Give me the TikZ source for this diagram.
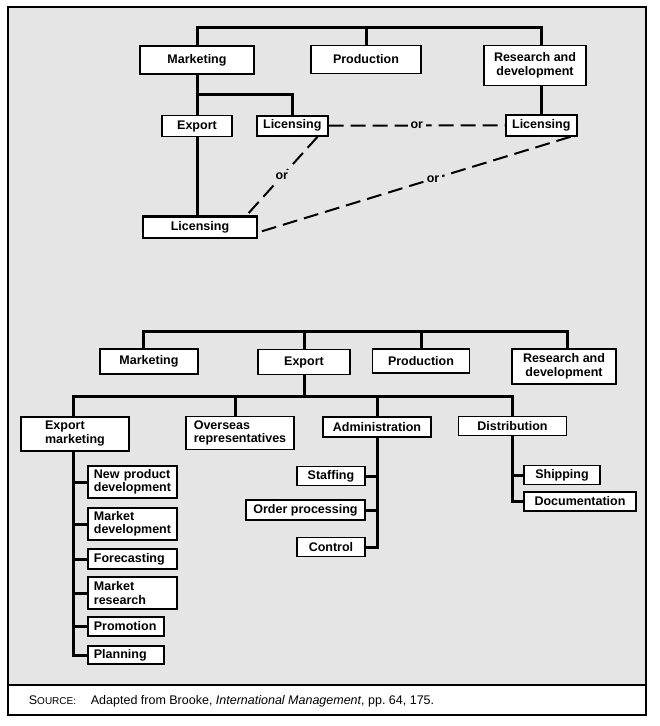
\documentclass[tikz,border=0pt]{standalone}
\usepackage{fontspec}
\setmainfont{Liberation Sans}
\usetikzlibrary{calc}
\definecolor{paper}{gray}{0.9}
\tikzset{
  unit/.style={draw,line width=1.8pt,fill=white,inner sep=2pt,align=center,
    font=\bfseries\fontsize{12.5}{13.5}\selectfont},
  lunit/.style={unit,anchor=west,align=left,inner xsep=6pt,text width=#1},
  link/.style={line width=3pt},
  alt/.style={line width=2pt,dash pattern=on 15pt off 7pt},
  orlabel/.style={fill=paper,inner sep=3pt,font=\bfseries\fontsize{12.5}{13.5}\selectfont}
}
\begin{document}
\begin{tikzpicture}[x=1pt,y=-1pt]
  \useasboundingbox (0,0) rectangle (660,726);
  \fill[paper] (7.5,7) rectangle (646,685);
  \draw[line width=2pt] (7.5,7) rectangle (646,715);
  \draw[line width=2.5pt] (7.5,685) -- (646,685);

  \node[unit,minimum width=114,minimum height=28] (mkt) at (197,60) {Marketing};
  \node[unit,minimum width=110,minimum height=28] (prod) at (366,59.5) {Production};
  \node[unit,minimum width=102,minimum height=40] (rnd) at (535,65.5) {Research and\\development};
  \node[unit,minimum width=70,minimum height=21] (exp) at (197,126) {Export};
  \node[unit,minimum width=71,minimum height=20] (lic1) at (292.3,125.7) {Licensing};
  \node[unit,minimum width=71,minimum height=21] (lic2) at (541.3,125.3) {Licensing};
  \node[unit,minimum width=114,minimum height=21] (lic3) at (200,227.5) {Licensing};
  \draw[link] (prod.north) -- ++(0,-17) coordinate (top);
  \draw[link] (mkt.north) |- (top) -| (lic2.north |- rnd.north);
  \draw[link] (mkt.south) -- (exp.north);
  \draw[link] ($(mkt.south)!0.5!(exp.north)$) -| (lic1.north);
  \draw[link] (lic2.north |- rnd.south) -- (lic2.north);
  \draw[link] (exp.south) -- (exp.south |- lic3.north);
  \draw[link] (lic3.north west) -- (lic3.north east);
  \draw[alt] (lic1.east) -- node[orlabel] {or} (lic2.west);
  \draw[alt] ([xshift=-11pt]lic1.south east) -- node[orlabel] {or} ([xshift=-12pt]lic3.north east);
  \draw[alt] ([xshift=-7pt]lic2.south east) -- node[orlabel,pos=0.44] {or} ([yshift=-5pt]lic3.east);

  \node[unit,minimum width=98,minimum height=25] (mkt2) at (149,361.5) {Marketing};
  \node[unit,minimum width=92,minimum height=25] (exp2) at (304,362) {Export};
  \node[unit,minimum width=97,minimum height=24] (prod2) at (421,361) {Production};
  \node[unit,minimum width=104,minimum height=35] (rnd2) at (564,366.5) {Research and\\development};
  \draw[link] (prod2.north) -- ++(0,-17) coordinate (top2);
  \draw[link] ([xshift=-6pt]mkt2.north) |- (top2) -| ([xshift=3pt]rnd2.north);
  \draw[link] (exp2.north) -- (exp2.north |- top2);
  \draw[link] (exp2.south) -- ++(0,21) coordinate (mid2);

  \node[unit,align=left,minimum width=108,minimum height=34] (expm) at (75,433.7) {Export\\marketing};
  \node[unit,align=left,minimum width=108,minimum height=33] (ovs) at (240,433) {Overseas\\representatives};
  \node[unit,minimum width=108,minimum height=20] (adm) at (377,426.7) {Administration};
  \node[unit,minimum width=108,minimum height=19] (dist) at (512.5,426) {Distribution};
  \coordinate (emline) at ([xshift=-2pt]expm.south);
  \coordinate (osline) at ([xshift=-5pt]ovs.north);
  \draw[link] (emline |- expm.north) |- (mid2) -| (dist.north);
  \draw[link] (osline) -- (osline |- mid2);
  \draw[link] (adm.north) -- (adm.north |- mid2);

  \node[lunit=76.7,minimum height=32] (npd) at (87,482) {New product\\development};
  \node[lunit=76.7,minimum height=32] (mdev) at (87,524) {Market\\development};
  \node[lunit=76.7,minimum height=20] (fcst) at (87,559) {Forecasting};
  \node[lunit=76.7,minimum height=32] (mres) at (87,593) {Market\\research};
  \node[lunit=64,minimum height=19] (prom) at (87,626.5) {Promotion};
  \node[lunit=64,minimum height=18] (plan) at (87,655) {Planning};
  \draw[link] (emline) |- (plan.west);
  \foreach \n in {npd,mdev,fcst,mres,prom}
    \draw[link] (\n.west) -- (emline |- \n.west);

  \node[unit,minimum width=68,minimum height=19] (stf) at (331,476) {Staffing};
  \node[unit,minimum width=119,minimum height=20] (ordp) at (305.5,510) {Order processing};
  \node[unit,minimum width=68,minimum height=19] (ctrl) at (331,547) {Control};
  \draw[link] (adm.south) |- (ctrl.east);
  \foreach \n in {stf,ordp}
    \draw[link] (\n.east) -- (adm.south |- \n.east);

  \node[unit,minimum width=76,minimum height=19] (ship) at (562,475) {Shipping};
  \node[unit,minimum width=112,minimum height=19] (docs) at (580,501.5) {Documentation};
  \draw[link] (dist.south) |- (docs.west);
  \draw[link] (ship.west) -- (dist.south |- ship.west);

  \node[anchor=base west,inner sep=0pt,font=\fontsize{12.5}{14}\selectfont] (src) at (28.7,704)
    {S\fontsize{10}{11}\selectfont OURCE:};
  \node[anchor=base west,inner sep=0pt,font=\fontsize{12.5}{14}\selectfont] (ref) at (90.7,704)
    {Adapted from Brooke, \textit{International Management}, pp.~64, 175.};
\end{tikzpicture}
\end{document}
